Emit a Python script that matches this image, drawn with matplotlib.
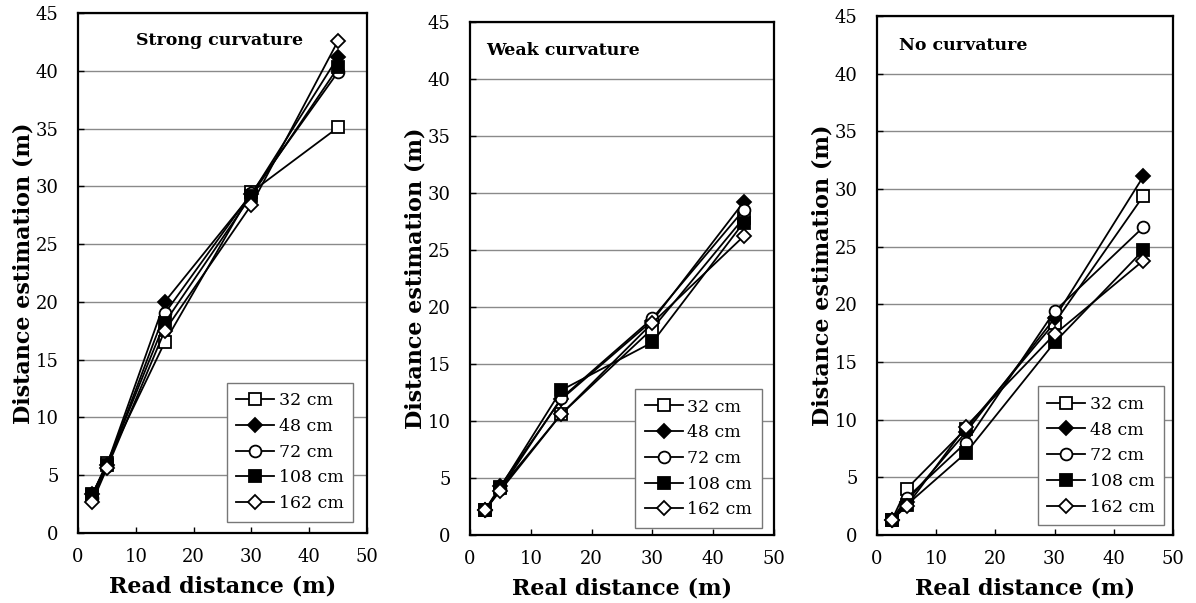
import matplotlib
matplotlib.use("Agg")
import matplotlib.pyplot as plt

# ---- data ----
real_distance = [2.5, 5, 15, 30, 45]
series_labels = ["32 cm", "48 cm", "72 cm", "108 cm", "162 cm"]
panel_titles = ["Strong curvature", "Weak curvature", "No curvature"]
x_labels = ["Read distance (m)", "Real distance (m)", "Real distance (m)"]
y_label = "Distance estimation (m)"

strong_32 = [3.3, 6.1, 16.5, 29.5, 35.1]
strong_48 = [3.4, 5.9, 20.0, 29.3, 41.2]
strong_72 = [3.0, 5.8, 19.0, 29.4, 39.9]
strong_108 = [3.4, 5.9, 18.2, 29.2, 40.3]
strong_162 = [2.7, 5.6, 17.5, 28.4, 42.6]

weak_32 = [2.2, 4.1, 10.6, 18.1, 27.8]
weak_48 = [2.2, 4.3, 11.9, 18.8, 29.2]
weak_72 = [2.2, 4.0, 12.0, 19.0, 28.5]
weak_108 = [2.2, 4.2, 12.7, 16.9, 27.4]
weak_162 = [2.2, 3.9, 10.6, 18.6, 26.2]

none_32 = [1.3, 4.0, 9.2, 18.4, 29.4]
none_48 = [1.3, 2.9, 8.9, 18.8, 31.1]
none_72 = [1.3, 3.2, 8.0, 19.4, 26.7]
none_108 = [1.3, 2.6, 7.1, 16.7, 24.7]
none_162 = [1.3, 2.5, 9.4, 17.4, 23.8]

panels = [
    [strong_32, strong_48, strong_72, strong_108, strong_162],
    [weak_32, weak_48, weak_72, weak_108, weak_162],
    [none_32, none_48, none_72, none_108, none_162],
]

# ---- style ----
plt.rcParams["font.family"] = ["DejaVu Serif"]
markers = ["s", "D", "o", "s", "D"]
faces = ["white", "black", "white", "black", "white"]
msizes = [8, 7, 8.5, 8, 7]

W, H = 1196, 603
fig = plt.figure(figsize=(W / 100, H / 100), dpi=100)

boxes = [(78, 367, 13, 533), (470, 774, 22, 535), (877, 1173, 16, 535)]
legend_anchor = [(0.952, 0.022), (0.96, 0.014), (0.97, 0.019)]
title_pos = [(0.491, 0.948), (0.306, 0.945), (0.29, 0.944)]

for i, (l, r, t, b) in enumerate(boxes):
    ax = fig.add_axes([l / W, 1 - b / H, (r - l) / W, (b - t) / H])
    for j, ys in enumerate(panels[i]):
        ax.plot(real_distance, ys, color="black", lw=1.3,
                marker=markers[j], markersize=msizes[j],
                markerfacecolor=faces[j], markeredgecolor="black",
                markeredgewidth=1.3, label=series_labels[j], zorder=3)
    ax.set_xlim(0, 50)
    ax.set_ylim(0, 45)
    ax.set_xticks(range(0, 51, 10))
    ax.set_yticks(range(0, 46, 5))
    ax.yaxis.grid(True, color="#8a8a8a", lw=1.0)
    ax.set_axisbelow(True)
    ax.tick_params(direction="in", length=4, width=1, labelsize=13)
    ax.tick_params(axis="x", pad=11)
    ax.tick_params(axis="y", pad=14)
    for s in ax.spines.values():
        s.set_linewidth(1.6)
    ax.set_xlabel(x_labels[i], fontsize=16, fontweight="bold", labelpad=7)
    ax.set_ylabel(y_label, fontsize=16, fontweight="bold", labelpad=1)
    ax.text(title_pos[i][0], title_pos[i][1], panel_titles[i],
            transform=ax.transAxes, ha="center", va="center",
            fontsize=12.5, fontweight="bold")
    leg = ax.legend(loc="lower right", bbox_to_anchor=legend_anchor[i],
                    borderaxespad=0, fontsize=12.5, frameon=True, fancybox=False,
                    edgecolor="#777777", framealpha=1, handlelength=2.2,
                    handletextpad=0.25, labelspacing=0.5, borderpad=0.55)
    leg.get_frame().set_linewidth(1.0)

fig.savefig("out.png", dpi=100)
